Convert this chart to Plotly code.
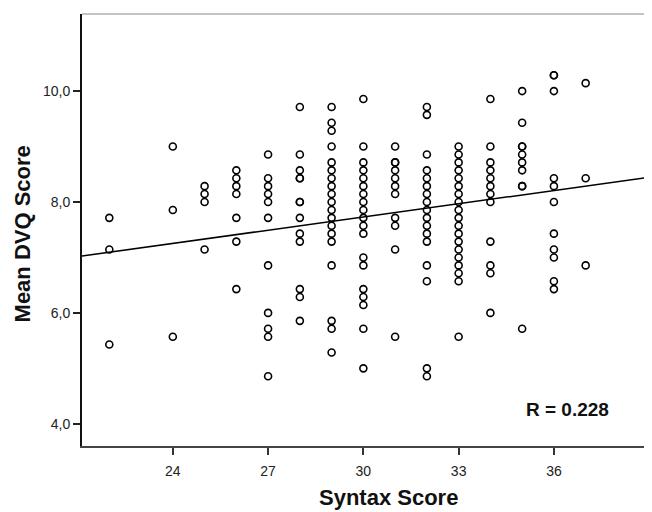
import plotly.graph_objects as go

# ---- data (Syntax Score columns -> Mean DVQ values) ----
syntax_scores = [22, 24, 25, 26, 27, 28, 29, 30, 31, 32, 33, 34, 35, 36, 37]

dvq_22 = [7.714, 7.143, 5.429]
dvq_24 = [9.0, 7.857, 5.571]
dvq_25 = [8.286, 8.143, 8.0, 7.143]
dvq_26 = [8.571, 8.429, 8.286, 8.143, 7.714, 7.286, 6.429]
dvq_27 = [8.857, 8.429, 8.286, 8.143, 8.0, 7.714, 6.857, 6.0, 5.714, 5.571, 4.857]
dvq_28 = [9.714, 8.857, 8.571, 8.429, 8.429, 8.0, 8.0, 7.714, 7.429, 7.286, 6.429, 6.286, 5.857]
dvq_29 = [9.714, 9.429, 9.286, 9.0, 8.714, 8.571, 8.429, 8.286, 8.143, 8.0, 7.857, 7.714,
          7.571, 7.429, 7.286, 6.857, 5.857, 5.714, 5.286]
dvq_30 = [9.857, 9.0, 8.714, 8.571, 8.429, 8.286, 8.143, 8.0, 7.857, 7.714, 7.571, 7.429,
          7.0, 6.857, 6.429, 6.286, 6.143, 5.714, 5.0]
dvq_31 = [9.0, 8.714, 8.714, 8.571, 8.429, 8.286, 8.143, 7.714, 7.571, 7.143, 5.571]
dvq_32 = [9.714, 9.571, 8.857, 8.571, 8.429, 8.286, 8.143, 8.0, 7.857, 7.714, 7.571, 7.429,
          7.286, 6.857, 6.571, 5.0, 4.857]
dvq_33 = [9.0, 8.857, 8.714, 8.571, 8.429, 8.286, 8.143, 8.0, 7.857, 7.714, 7.571, 7.429,
          7.286, 7.143, 7.0, 6.857, 6.714, 6.571, 5.571]
dvq_34 = [9.857, 9.0, 8.714, 8.571, 8.429, 8.286, 8.143, 8.0, 7.286, 6.857, 6.714, 6.0]
dvq_35 = [10.0, 9.429, 9.0, 9.0, 8.857, 8.714, 8.571, 8.286, 8.286, 5.714]
dvq_36 = [10.286, 10.286, 10.0, 8.429, 8.286, 8.0, 7.429, 7.143, 7.0, 6.571, 6.429]
dvq_37 = [10.143, 8.429, 6.857]

dvq_columns = [dvq_22, dvq_24, dvq_25, dvq_26, dvq_27, dvq_28, dvq_29, dvq_30,
               dvq_31, dvq_32, dvq_33, dvq_34, dvq_35, dvq_36, dvq_37]

# fitted line
fit_slope = 0.0795
fit_intercept = 5.345
r_label = "R = 0.228"

x_tick_vals = [24, 27, 30, 33, 36]
y_tick_vals = [4, 6, 8, 10]
y_tick_text = ["4,0", "6,0", "8,0", "10,0"]

x_range = [21.14, 38.9]
y_range = [3.6, 11.39]

# ---- build ----
xs, ys = [], []
for s, col in zip(syntax_scores, dvq_columns):
    xs.extend([s] * len(col))
    ys.extend(col)

FONT = "Arial, 'Liberation Sans', sans-serif"

fig = go.Figure()
fig.add_trace(go.Scatter(
    x=xs, y=ys, mode="markers",
    marker=dict(symbol="circle-open", size=7, color="black",
                line=dict(width=1.6, color="black")),
    showlegend=False, hoverinfo="skip",
))
fig.add_trace(go.Scatter(
    x=x_range,
    y=[fit_intercept + fit_slope * v for v in x_range],
    mode="lines", line=dict(color="black", width=1.5),
    showlegend=False, hoverinfo="skip",
))

# page body has an 8px default margin, so the figure is sized to fit the window
fig.update_layout(
    width=644, height=504,
    margin=dict(l=74, r=6, t=6, b=66),
    paper_bgcolor="white", plot_bgcolor="white",
    font=dict(family=FONT, color="#222"),
    xaxis=dict(range=x_range, tickvals=x_tick_vals, ticks="outside", ticklen=7,
               tickwidth=1.5, tickcolor="#333", showline=True, linecolor="#444",
               linewidth=1.5, showgrid=False, zeroline=False,
               tickfont=dict(size=14, color="#222"), ticklabelstandoff=4),
    yaxis=dict(range=y_range, tickvals=y_tick_vals, ticktext=y_tick_text,
               ticks="outside", ticklen=7, tickwidth=1.5, tickcolor="#222",
               showline=True, linecolor="#111", linewidth=2, showgrid=False,
               zeroline=False, tickfont=dict(size=14, color="#222")),
    shapes=[
        dict(type="line", xref="paper", yref="paper", x0=0, x1=1, y0=1, y1=1,
             line=dict(color="#888", width=1)),
        dict(type="line", xref="paper", yref="paper", x0=1, x1=1, y0=0, y1=1,
             line=dict(color="black", width=2.5)),
    ],
    annotations=[
        dict(text="<b>Syntax Score</b>", xref="paper", yref="paper",
             x=0.5426, y=-0.1187, showarrow=False, xanchor="center", yanchor="middle",
             font=dict(size=22, color="#111", family=FONT)),
        dict(text="<b>Mean DVQ Score</b>", xref="paper", yref="paper",
             x=-0.1064, y=0.492, showarrow=False, textangle=-90,
             xanchor="center", yanchor="middle",
             font=dict(size=22, color="#111", family=FONT)),
        dict(text="<b>" + r_label + "</b>", xref="x", yref="y",
             x=36.44, y=4.26, showarrow=False, xanchor="center", yanchor="middle",
             bgcolor="white", font=dict(size=19, color="#111", family=FONT)),
    ],
)

fig.write_html("out.html")
